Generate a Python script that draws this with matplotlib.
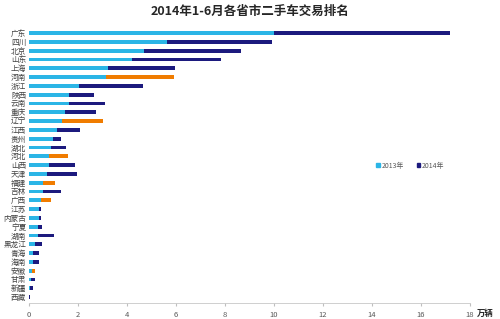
import matplotlib.pyplot as plt
import numpy as np
from matplotlib.patches import Patch

plt.rcParams['font.family'] = ['Noto Sans CJK SC', 'DejaVu Sans']

# --- data (万辆), top to bottom ---
provinces = ["广东", "四川", "北京", "山东", "上海", "河南", "浙江", "陕西", "云南", "重庆",
             "辽宁", "江西", "贵州", "湖北", "河北", "山西", "天津", "福建", "吉林", "广西",
             "江苏", "内蒙古", "宁夏", "湖南", "黑龙江", "青海", "海南", "安徽", "甘肃", "新疆", "西藏"]
v2013 = [10.0, 5.65, 4.7, 4.2, 3.23, 3.14, 2.04, 1.65, 1.65, 1.47,
         1.36, 1.13, 0.98, 0.88, 0.80, 0.80, 0.73, 0.59, 0.57, 0.50,
         0.39, 0.39, 0.35, 0.35, 0.25, 0.18, 0.15, 0.11, 0.09, 0.03, 0.02]
v2014 = [17.2, 9.9, 8.66, 7.82, 5.97, 5.93, 4.64, 2.66, 3.09, 2.72,
         3.02, 2.07, 1.29, 1.53, 1.59, 1.86, 1.95, 1.05, 1.29, 0.88,
         0.47, 0.50, 0.55, 1.00, 0.52, 0.40, 0.40, 0.25, 0.24, 0.17, 0.06]
highlight = ["河南", "辽宁", "河北", "福建", "广西", "安徽"]

c13 = "#2BB5E6"
c14 = "#1C1A7E"
c_hl = "#F07C00"

fig = plt.figure(figsize=(5, 3.19), dpi=100)
ax = fig.add_axes([0.058, 0.05, 0.882, 0.862])

y = np.arange(len(provinces))
col14 = [c_hl if p in highlight else c14 for p in provinces]
ax.barh(y, v2014, height=0.42, color=col14, zorder=2)
ax.barh(y, v2013, height=0.42, color=c13, zorder=3)

ax.set_ylim(len(provinces) - 0.32, -0.57)
ax.set_xlim(0, 18)
ax.set_xticks(np.arange(0, 19, 2))
ax.set_yticks(y)
ax.set_yticklabels(provinces)
ax.tick_params(axis='y', length=0, labelsize=5.5, labelcolor="#404040", pad=2)
ax.tick_params(axis='x', length=2, color="#bfbfbf", labelsize=5.5, labelcolor="#595959", pad=4)

for s in ["top", "right", "left"]:
    ax.spines[s].set_visible(False)
ax.spines["bottom"].set_color("#c8c8c8")
ax.spines["bottom"].set_linewidth(0.6)

handles = [Patch(color=c13, label="2013年"), Patch(color=c14, label="2014年")]
ax.legend(handles=handles, loc="center", bbox_to_anchor=(0.865, 0.50), ncol=2, frameon=False,
          fontsize=5, handlelength=0.5, handleheight=0.5, handletextpad=0.3, columnspacing=1.8,
          labelcolor="#595959")

fig.text(0.5, 0.965, "2014年1-6月各省市二手车交易排名", ha="center", va="center",
         fontsize=9, fontweight="bold", color="#262626")
fig.text(0.97, 0.018, "万辆", ha="center", va="center", fontsize=6, fontweight="bold", color="#262626")

fig.savefig("out.png", dpi=100)
